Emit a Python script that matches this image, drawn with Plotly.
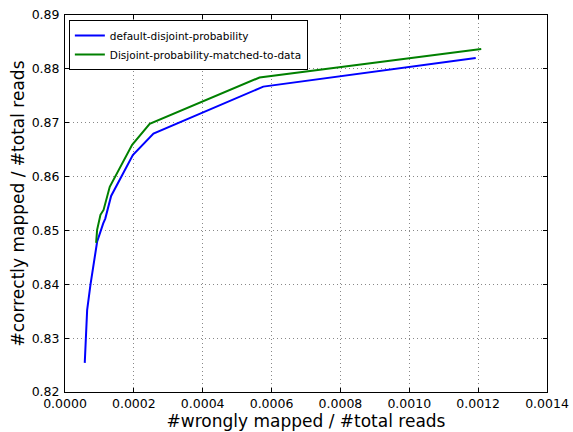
import plotly.graph_objects as go

blue_x = [0.0000574, 0.0000643, 0.0000739, 0.0000933, 0.000111, 0.000117, 0.000134, 0.000197, 0.000257, 0.000576, 0.001193]
blue_y = [0.8254, 0.8352, 0.8399, 0.8479, 0.8513, 0.8522, 0.8564, 0.8640, 0.8680, 0.8767, 0.8820]
green_x = [0.0000904, 0.0000933, 0.000103, 0.000112, 0.000130, 0.000195, 0.000246, 0.000565, 0.001209]
green_y = [0.8477, 0.8501, 0.8529, 0.8538, 0.8581, 0.8659, 0.8698, 0.8784, 0.8837]

x_ticks = [0.0, 0.0002, 0.0004, 0.0006, 0.0008, 0.0010, 0.0012, 0.0014]
x_labels = ["0.0000", "0.0002", "0.0004", "0.0006", "0.0008", "0.0010", "0.0012", "0.0014"]
y_ticks = [0.82, 0.83, 0.84, 0.85, 0.86, 0.87, 0.88, 0.89]
y_labels = ["0.82", "0.83", "0.84", "0.85", "0.86", "0.87", "0.88", "0.89"]

fig = go.Figure()
fig.add_trace(go.Scatter(x=blue_x, y=blue_y, mode="lines", name="default-disjoint-probability",
                         line=dict(color="#0000ff", width=2)))
fig.add_trace(go.Scatter(x=green_x, y=green_y, mode="lines", name="Disjoint-probability-matched-to-data",
                         line=dict(color="#008000", width=2)))

axis_common = dict(showline=True, linecolor="black", linewidth=1, mirror="ticks",
                   ticks="inside", ticklen=4, tickcolor="black", automargin=False,
                   showgrid=True, gridcolor="#888888", griddash="1px,3px", gridwidth=1,
                   zeroline=False, tickfont=dict(family="DejaVu Sans", size=12.5, color="black"))

fig.update_layout(
    width=573, height=432,
    margin=dict(l=64.5, r=25.5, t=15, b=40),
    plot_bgcolor="white", paper_bgcolor="white",
    font=dict(family="DejaVu Sans", color="black"),
    xaxis=dict(range=[0, 0.0014], tickvals=x_ticks, ticktext=x_labels, ticklabelstandoff=0,
               title=dict(text="#wrongly mapped / #total reads", font=dict(size=17), standoff=0),
               **axis_common),
    yaxis=dict(range=[0.82, 0.89], tickvals=y_ticks, ticktext=y_labels, ticklabelstandoff=2,
               title=dict(text="#correctly mapped / #total reads", font=dict(size=17), standoff=2),
               **axis_common),
    legend=dict(x=0.008, y=0.987, xanchor="left", yanchor="top",
                bordercolor="black", borderwidth=1, bgcolor="white",
                font=dict(family="DejaVu Sans", size=10.5), tracegroupgap=0,
                itemwidth=30),
    showlegend=True,
)

fig.write_html("out.html")
